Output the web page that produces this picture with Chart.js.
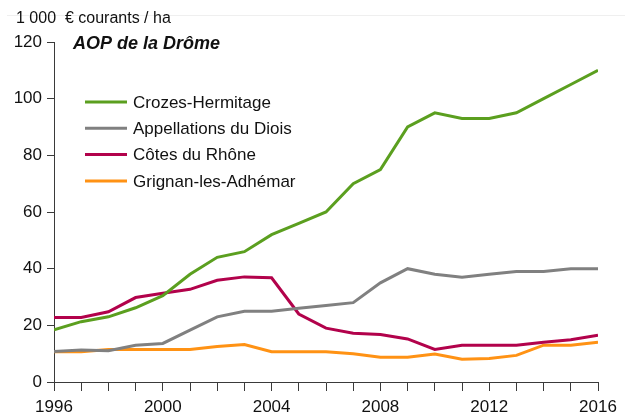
<!DOCTYPE html>
<html>
<head>
<meta charset="utf-8">
<script src="https://cdn.jsdelivr.net/npm/chart.js@4/dist/chart.umd.min.js"></script>
<style>
html,body{margin:0;padding:0;background:#fff;}
#wrap{position:relative;width:625px;height:417px;}
</style>
</head>
<body>
<div id="wrap"><canvas id="c" width="625" height="417"></canvas></div>
<script>
const years = [1996,1997,1998,1999,2000,2001,2002,2003,2004,2005,2006,2007,2008,2009,2010,2011,2012,2013,2014,2015,2016];
const seriesNames = ["Crozes-Hermitage","Appellations du Diois","Côtes du Rhône","Grignan-les-Adhémar"];
const crozes  = [18.4,21.3,23,26.2,30.5,38,44,46,52,56,60,70,75,90,95,93,93,95,100,105,110];
const diois   = [10.8,11.3,11,13,13.6,18.3,23,25,25,26,27,28,35,40,38,37,38,39,39,40,40];
const cotes   = [22.8,22.8,24.8,29.8,31.3,32.7,35.9,37.1,36.8,24,19,17.2,16.8,15.2,11.5,13,13,13,14,14.9,16.5];
const grignan = [10.7,10.7,11.5,11.5,11.5,11.5,12.5,13.2,10.7,10.7,10.7,10,8.7,8.7,9.9,8,8.3,9.4,13,13,14];
const yTicks = [0,20,40,60,80,100,120];
const xLabelYears = [1996,2000,2004,2008,2012,2016];
const unitLabel = "1 000  € courants / ha";
const chartTitle = "AOP de la Drôme";
const colors = ["#5b9f1f","#808080","#b2024b","#ff9214"];

const seriesValues = [crozes, diois, cotes, grignan];
const datasets = seriesValues.map((vals,i)=>({
  label: seriesNames[i],
  data: vals.map((v,j)=>({x:years[j], y:v})),
  borderColor: colors[i],
  backgroundColor: colors[i],
  borderWidth: 3,
  pointRadius: 0,
  tension: 0,
  fill: false
}));
datasets.forEach((d,i)=>{ d.order = i; });

const axisColor = "#3a3a3a";
const font = "'Liberation Sans', Arial, sans-serif";

const overlay = {
  id: 'overlay',
  afterDraw(chart){
    const ctx = chart.ctx;
    ctx.save();
    ctx.strokeStyle = "#efefef";
    ctx.lineWidth = 1;
    ctx.beginPath();
    ctx.moveTo(7,15.5); ctx.lineTo(625,15.5);
    ctx.stroke();
    ctx.fillStyle = "#111";
    ctx.textBaseline = "middle";
    ctx.textAlign = "left";
    ctx.font = "16px " + font;
    ctx.fillText(unitLabel, 16, 19);
    ctx.font = "italic bold 18px " + font;
    ctx.fillText(chartTitle, 73, 44);
    ctx.font = "17px " + font;
    chart.data.datasets.forEach((ds,i)=>{
      const y = 102 + i*26.3;
      ctx.strokeStyle = ds.borderColor;
      ctx.lineWidth = 3;
      ctx.beginPath();
      ctx.moveTo(85, y); ctx.lineTo(127, y);
      ctx.stroke();
      ctx.fillStyle = "#111";
      ctx.fillText(ds.label, 133, y+1);
    });
    ctx.restore();
  }
};

new Chart(document.getElementById('c'), {
  type: 'line',
  data: { datasets },
  options: {
    responsive: false,
    animation: false,
    layout: { padding: { top: 42, right: 27, left: 0, bottom: 0 } },
    plugins: { legend: { display: false }, tooltip: { enabled: false } },
    scales: {
      x: {
        type: 'linear',
        min: years[0], max: years[years.length-1],
        afterBuildTicks(scale){ scale.ticks = years.map(v=>({value:v})); },
        afterFit(scale){ scale.height = 35; },
        grid: { drawOnChartArea: false, drawTicks: true, tickLength: 9, color: axisColor, lineWidth: 1 },
        border: { display: true, color: axisColor, width: 1 },
        ticks: {
          autoSkip: false, maxRotation: 0, padding: 6,
          color: "#111", font: { family: font, size: 17 },
          callback: v => xLabelYears.includes(v) ? String(v) : ''
        }
      },
      y: {
        min: yTicks[0], max: yTicks[yTicks.length-1],
        afterBuildTicks(scale){ scale.ticks = yTicks.map(v=>({value:v})); },
        afterFit(scale){ scale.width = 54; },
        grid: { drawOnChartArea: false, drawTicks: true, tickLength: 7, color: axisColor, lineWidth: 1 },
        border: { display: true, color: axisColor, width: 1 },
        ticks: { padding: 5, color: "#111", font: { family: font, size: 17 } }
      }
    }
  },
  plugins: [overlay]
});
</script>
</body>
</html>
